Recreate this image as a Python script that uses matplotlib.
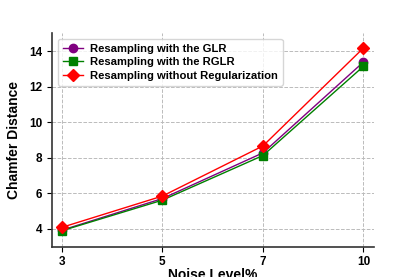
import matplotlib
matplotlib.use("Agg")
import matplotlib.pyplot as plt
import numpy as np

plt.rcParams['font.family'] = ['Liberation Sans', 'DejaVu Sans']
plt.rcParams['font.weight'] = 'bold'

noise_levels = ['3', '5', '7', '10']
glr = [3.92, 5.70, 8.27, 13.38]
rglr = [3.89, 5.61, 8.12, 13.14]
no_reg = [4.08, 5.84, 8.66, 14.17]

x = np.arange(len(noise_levels))

fig, ax = plt.subplots(figsize=(4.15, 2.77), dpi=100)

ax.plot(x, glr, marker='o', c='purple', lw=1, markersize=6, label='Resampling with the GLR')
ax.plot(x, rglr, marker='s', c='green', lw=1, markersize=6, label='Resampling with the RGLR')
ax.plot(x, no_reg, marker='D', c='red', lw=1, markersize=6, label='Resampling without Regularization')

ax.set_xticks(x)
ax.set_xticklabels(noise_levels)
ax.set_yticks([4, 6, 8, 10, 12, 14])
ax.set_ylim(3, 15)
ax.set_xlim(-0.1, 3.1)

ax.set_xlabel('Noise Level%', fontsize=10, fontweight='bold', labelpad=0)
ax.set_ylabel('Chamfer Distance', fontsize=10, fontweight='bold', labelpad=6)
ax.tick_params(labelsize=8.5)
for lab in ax.get_xticklabels() + ax.get_yticklabels():
    lab.set_fontweight('bold')

ax.grid(True, linestyle='--', color='#bbbbbb', lw=0.7)
ax.spines['top'].set_visible(False)
ax.spines['right'].set_visible(False)
ax.spines['left'].set_linewidth(1.2)
ax.spines['bottom'].set_linewidth(1.2)
ax.spines['left'].set_color('#333333')
ax.spines['bottom'].set_color('#333333')

ax.legend(loc='upper left', prop={'weight': 'bold', 'size': 8.1}, handlelength=1.8,
          borderpad=0.45, labelspacing=0.3, handletextpad=0.6)

plt.savefig('out.png')
